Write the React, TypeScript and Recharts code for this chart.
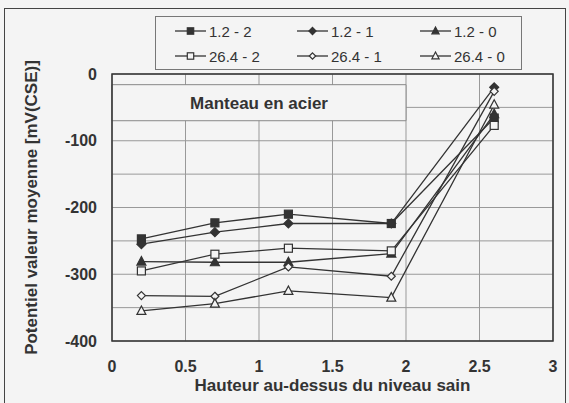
import React from 'react';
import { LineChart, Line, XAxis, YAxis, CartesianGrid, ReferenceArea } from 'recharts';

const heights = [0.2, 0.7, 1.2, 1.9, 2.6];
const s12_2 = [-247, -223, -210, -224, -66];
const s12_1 = [-255, -237, -224, -224, -20];
const s12_0 = [-281, -282, -282, -269, -60];
const s264_2 = [-295, -270, -261, -265, -77];
const s264_1 = [-332, -333, -289, -303, -26];
const s264_0 = [-355, -344, -325, -335, -46];

const xTicks = [0, 0.5, 1, 1.5, 2, 2.5, 3];
const yTicks = [-400, -350, -300, -250, -200, -150, -100, -50, 0];

const series = [
    { key: 'a', name: '1.2 - 2', values: s12_2, shape: 'square', filled: true },
    { key: 'b', name: '1.2 - 1', values: s12_1, shape: 'diamond', filled: true },
    { key: 'c', name: '1.2 - 0', values: s12_0, shape: 'triangle', filled: true },
    { key: 'd', name: '26.4 - 2', values: s264_2, shape: 'square', filled: false },
    { key: 'e', name: '26.4 - 1', values: s264_1, shape: 'diamond', filled: false },
    { key: 'f', name: '26.4 - 0', values: s264_0, shape: 'triangle', filled: false },
];

const data = heights.map((h, i) => {
    const row: any = { x: h };
    series.forEach(s => { row[s.key] = s.values[i]; });
    return row;
});

const BG = '#f4f4f4';
const INK = '#333';
const FONT = 'Arial, "Liberation Sans", sans-serif';

const Marker = ({ cx, cy, shape, filled, k = 1 }: any) => {
    const fill = filled ? INK : BG;
    if (shape === 'square') {
        const h = 4 * k;
        return <rect x={cx - h} y={cy - h} width={2 * h} height={2 * h} fill={fill} stroke={INK} strokeWidth={1.2} />;
    }
    if (shape === 'diamond') {
        const r = (filled ? 4.5 : 4) * k;
        return <polygon points={`${cx},${cy - r} ${cx + r},${cy} ${cx},${cy + r} ${cx - r},${cy}`} fill={fill} stroke={INK} strokeWidth={1.2} />;
    }
    return <polygon points={`${cx},${cy - 5 * k} ${cx + 4.5 * k},${cy + 3.5 * k} ${cx - 4.5 * k},${cy + 3.5 * k}`} fill={fill} stroke={INK} strokeWidth={1.2} />;
};

// legend drawn by hand so it doesn't eat into the plot height
const ChartLegend = () => {
    const cols = [20, 142, 265];
    return (
        <svg width={367} height={54} style={{ position: 'absolute', left: 155, top: 16 }}>
            <rect x={0.5} y={0.5} width={366} height={53} fill={BG} stroke="#777" />
            {series.map((s, i) => {
                const x = cols[i % 3];
                const y = i < 3 ? 15 : 40;
                return (
                    <g key={s.key}>
                        <line x1={x} x2={x + 31} y1={y} y2={y} stroke={INK} strokeWidth={1.3} />
                        <Marker cx={x + 15.5} cy={y} shape={s.shape} filled={s.filled} k={0.8} />
                        <text x={x + 34} y={y + 5.5} fontSize={15} fontFamily={FONT} fill={INK}>{s.name}</text>
                    </g>
                );
            })}
        </svg>
    );
};

export default function App() {
    return (
        <div style={{ position: 'absolute', left: 0, top: 0, width: 569, height: 403, background: BG, overflow: 'hidden' }}>
            <div style={{ position: 'absolute', left: 4, top: 8, width: 560, height: 400, border: '1.5px solid #444' }} />
            <div style={{ position: 'absolute', left: 0, top: 0 }}>
                <LineChart width={569} height={403} data={data} margin={{ top: 74, right: 16, bottom: 0, left: 0 }}>
                    <CartesianGrid stroke="#999" strokeWidth={1} horizontalValues={yTicks} verticalValues={xTicks} />
                    <XAxis
                        type="number"
                        dataKey="x"
                        domain={[0, 3]}
                        ticks={xTicks}
                        height={62}
                        tickLine={false}
                        axisLine={false}
                        tickSize={0}
                        tickMargin={20}
                        tick={{ fontSize: 16, fontWeight: 'bold', fill: INK, fontFamily: FONT }}
                        label={{ value: 'Hauteur au-dessus du niveau sain', position: 'insideBottom', offset: 12, fontSize: 17, fontWeight: 'bold', fill: INK, fontFamily: FONT }}
                    />
                    <YAxis
                        type="number"
                        domain={[-400, 0]}
                        ticks={yTicks}
                        width={112}
                        tickLine={false}
                        axisLine={false}
                        tickSize={0}
                        tickMargin={15}
                        interval={0}
                        tickFormatter={(v: number) => (v % 100 === 0 ? String(v) : '')}
                        tick={{ fontSize: 16, fontWeight: 'bold', fill: INK, fontFamily: FONT }}
                        label={{ value: 'Potentiel valeur moyenne [mV(CSE)]', angle: -90, position: 'insideLeft', offset: 31, fontSize: 17, fontWeight: 'bold', fill: INK, fontFamily: FONT, style: { textAnchor: 'middle' } }}
                    />
                    <ReferenceArea
                        x1={0}
                        x2={2}
                        y1={-70}
                        y2={-16}
                        fill={BG}
                        fillOpacity={1}
                        stroke="#888"
                        label={{ value: 'Manteau en acier', position: 'center', fontSize: 17, fontWeight: 'bold', fill: INK, fontFamily: FONT }}
                    />
                    <ReferenceArea x1={0} x2={3} y1={-400} y2={0} fill="none" stroke={INK} strokeWidth={1.5} />
                    {series.map(s => (
                        <Line
                            key={s.key}
                            dataKey={s.key}
                            name={s.name}
                            stroke={INK}
                            strokeWidth={1.3}
                            isAnimationActive={false}
                            dot={(p: any) => <Marker key={`${s.key}-${p.index}`} cx={p.cx} cy={p.cy} shape={s.shape} filled={s.filled} />}
                        />
                    ))}
                </LineChart>
            </div>
            <ChartLegend />
        </div>
    );
}
